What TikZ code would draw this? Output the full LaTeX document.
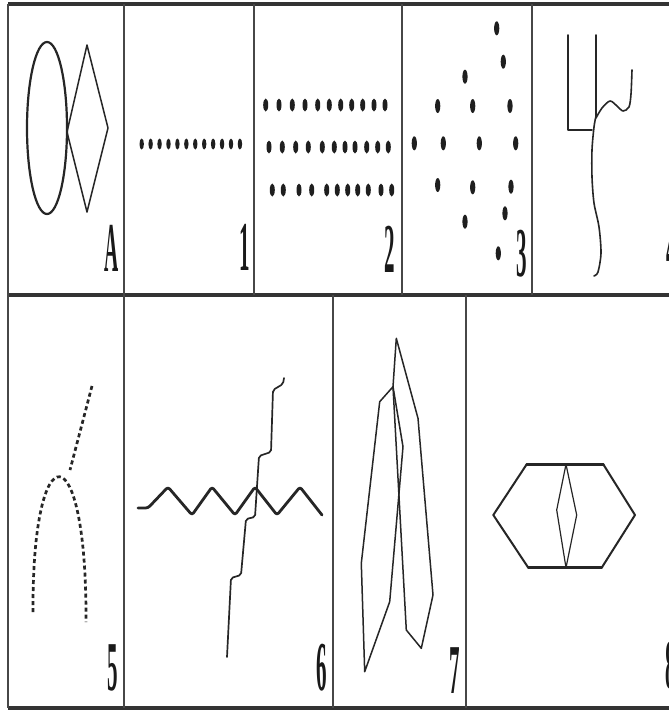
\documentclass[tikz,border=0pt]{standalone}
\usepackage{fontspec}
\setmainfont{Liberation Serif}
\begin{document}
\begin{tikzpicture}[x=1pt,y=-1pt,
  ink/.style={draw=black!85, line cap=round, line join=round},
  rulev/.style={draw=black!72, line width=1.3pt},
  ruleh/.style={draw=black!80, line width=3.2pt},
  lbl/.style={anchor=base, inner sep=0pt, font=\fontsize{70}{70}\selectfont\bfseries, text=black!90},
  dotc/.style={fill=black!88},
  dashy/.style={ink, line width=2.7pt, line cap=butt, dash pattern=on 4pt off 3pt}]
\useasboundingbox (0,0) rectangle (669,713);
\fill[white] (0,0) rectangle (669,713);
% frame
\draw[ruleh] (8,4) -- (669,4);
\draw[ruleh] (8,295) -- (669,295);
\draw[ruleh] (8,708) -- (669,708);
\draw[rulev] (8,4) -- (8,708);
\foreach \x in {124,254,402,532} \draw[rulev] (\x,4) -- (\x,295);
\foreach \x in {124,333,466} \draw[rulev] (\x,295) -- (\x,708);
% labels
\node[lbl] (labA) at (112,271) {\scalebox{0.28}[1]{A}};
\node[lbl] (lab1) at (245,270) {\scalebox{0.3}[1]{1}};
\node[lbl] (lab2) at (390,272) {\scalebox{0.3}[1]{2}};
\node[lbl] (lab3) at (522,276) {\scalebox{0.3}[1]{3}};
\node[lbl] (lab4) at (672,270) {\scalebox{0.3}[1]{4}};
\node[lbl] (lab5) at (113,690) {\scalebox{0.3}[1]{5}};
\node[lbl] (lab6) at (322,690) {\scalebox{0.3}[1]{6}};
\node[lbl] (lab7) at (455,693) {\scalebox{0.3}[1]{7}};
\node[lbl] (lab8) at (671,688) {\scalebox{0.3}[1]{8}};
% panel A
\draw[ink, line width=2.2pt] (47,128) ellipse [x radius=20, y radius=86];
\draw[ink, line width=1.5pt] (87,45) -- (108,128) -- (87,212) -- (67,132) -- cycle;
% panel 1
\foreach \i in {0,...,11} \fill[dotc] (141.7+\i*8.93,144) ellipse [x radius=2.2, y radius=5.5];
% panel 2
\foreach \x in {265.7,279,292.3,305,317.7,329.3,340.7,351.7,362.7,374,385}
  \fill[dotc] (\x,105) ellipse [x radius=2.5, y radius=6.5];
\foreach \x in {269,282.3,295.7,308.3,322.3,334.3,345,355,366.7,377.7,388.3}
  \fill[dotc] (\x,147) ellipse [x radius=2.5, y radius=6.5];
\foreach \x in {272.3,283.3,299,311.7,326.7,337.3,347.7,357.7,368.3,381,391.7}
  \fill[dotc] (\x,190) ellipse [x radius=2.5, y radius=6.5];
% panel 3
\foreach \p in {(496.7,28.3),(503.3,61.7),(465,76.7),(437.7,106),(472.7,106),(510,106),
  (414.3,143.3),(443.3,143.3),(479.3,143.3),(515.7,143.3),(437.7,185),(472.7,187.3),
  (511,186.7),(505,213.3),(465,221.7),(498.3,253.3)}
  \fill[dotc] \p ellipse [x radius=2.6, y radius=7];
% panel 4
\draw[ink, line width=1.6pt] (568,35) -- (568,130) -- (592,130);
\draw[ink, line width=1.6pt] (596,35) -- (596,116);
\draw[ink, line width=1.6pt] plot[smooth] coordinates {(596,116) (594,127) (592,150) (592,177) (594,203) (599,227) (601,253) (598,272) (594,276)};
\draw[ink, line width=1.6pt] plot[smooth] coordinates {(596,118) (602,108) (610,101) (617,106) (623,111) (629,107) (631,94) (632,70)};
% panel 5
\draw[dashy] (92,386) -- (70,470);
\draw[dashy] (33,612) .. controls (32,430) and (87,430) .. (86,622);
% panel 6
\draw[ink, line width=2.8pt, rounded corners=2.5pt] (138,508) -- (148,508) -- (168,487) -- (192,515) -- (212,487) -- (235,515) -- (255,487) -- (277,515) -- (300,487) -- (322,515);
\draw[ink, line width=1.7pt, rounded corners=2pt] (284,378) -- (283,384) -- (273,390) -- (271,452) -- (259,456) -- (255,517) -- (246,519) -- (241,575) -- (231,578) -- (227,657);
% panel 7
\draw[ink, line width=1.5pt] (396.3,338.3) -- (418,418.3) -- (433,595) -- (421.3,648.3) -- (406.3,630) -- (393,386.7) -- cycle;
\draw[ink, line width=1.5pt] (393,386.7) -- (379.7,401.7) -- (361.3,563.3) -- (364.7,671.7) -- (389.7,601.7) -- (403,446.7) -- cycle;
% panel 8
\draw[ink, line width=2pt] (526.7,464.3) -- (603.3,464.3) -- (635,515) -- (601.7,567.7) -- (528.3,567.7) -- (493.3,515) -- cycle;
\draw[ink, line width=2.8pt] (526.7,464.3) -- (603.3,464.3);
\draw[ink, line width=2.8pt] (528.3,567.7) -- (601.7,567.7);
\draw[ink, line width=1.2pt] (566,464.3) -- (576.7,515) -- (566,567.7) -- (556.7,510) -- cycle;
\end{tikzpicture}
\end{document}
